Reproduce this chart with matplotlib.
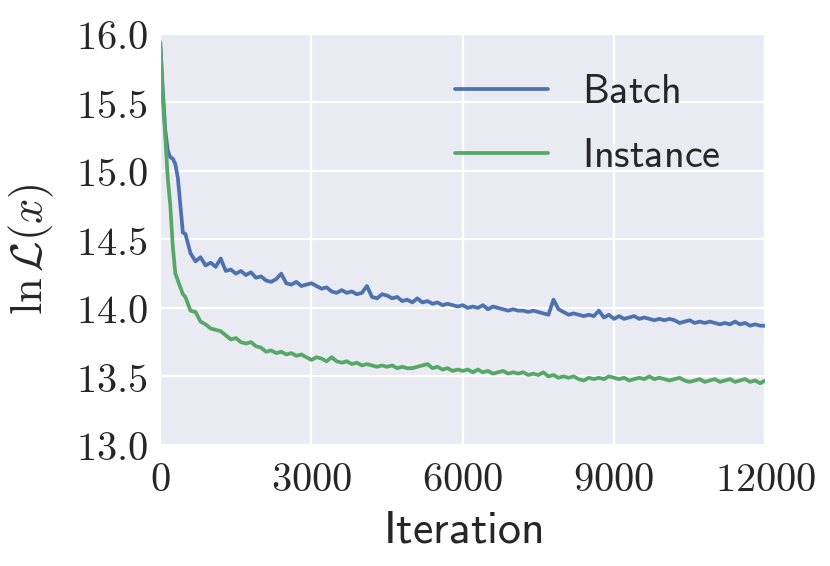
import numpy as np
import matplotlib
matplotlib.use("Agg")
import matplotlib.pyplot as plt
import seaborn as sns

# iteration axis: finer at the start, then every 100
iters = [0, 50, 100, 150, 200, 250, 300, 350, 400, 450] + list(range(500, 12001, 100))

batch = [15.94, 15.60, 15.30, 15.15, 15.10, 15.09, 15.05, 14.95, 14.75, 14.55,
         14.54, 14.40, 14.34, 14.37, 14.31, 14.33, 14.30, 14.36, 14.27, 14.28,
         14.25, 14.27, 14.24, 14.26, 14.22, 14.23, 14.20, 14.19, 14.21, 14.25,
         14.18, 14.17, 14.19, 14.16, 14.17, 14.18, 14.16, 14.14, 14.15, 14.12,
         14.11, 14.13, 14.11, 14.12, 14.10, 14.11, 14.16, 14.08, 14.07, 14.10,
         14.09, 14.07, 14.08, 14.05, 14.06, 14.04, 14.07, 14.04, 14.05, 14.03,
         14.04, 14.02, 14.03, 14.02, 14.01, 14.02, 14.00, 14.01, 14.00, 14.02,
         13.99, 14.01, 14.00, 13.99, 13.98, 13.99, 13.98, 13.98, 13.97, 13.98,
         13.97, 13.96, 13.95, 14.06, 13.99, 13.97, 13.95, 13.96, 13.95, 13.94,
         13.95, 13.94, 13.98, 13.93, 13.95, 13.92, 13.94, 13.92, 13.93, 13.94,
         13.92, 13.93, 13.92, 13.91, 13.92, 13.91, 13.92, 13.91, 13.89, 13.90,
         13.91, 13.89, 13.90, 13.89, 13.90, 13.89, 13.88, 13.89, 13.88, 13.90,
         13.88, 13.89, 13.87, 13.88, 13.87, 13.87]

instance = [15.94, 15.55, 15.25, 14.95, 14.75, 14.45, 14.25, 14.20, 14.15, 14.10,
            14.08, 13.98, 13.97, 13.90, 13.88, 13.85, 13.84, 13.83, 13.80, 13.77,
            13.78, 13.75, 13.74, 13.75, 13.72, 13.71, 13.68, 13.69, 13.67, 13.68,
            13.66, 13.67, 13.65, 13.66, 13.64, 13.62, 13.64, 13.63, 13.61, 13.64,
            13.61, 13.60, 13.61, 13.59, 13.60, 13.58, 13.59, 13.58, 13.57, 13.58,
            13.57, 13.58, 13.56, 13.57, 13.56, 13.56, 13.57, 13.58, 13.59, 13.56,
            13.57, 13.55, 13.56, 13.54, 13.55, 13.54, 13.55, 13.53, 13.55, 13.53,
            13.54, 13.52, 13.53, 13.54, 13.52, 13.53, 13.52, 13.53, 13.51, 13.52,
            13.51, 13.53, 13.50, 13.51, 13.49, 13.50, 13.49, 13.50, 13.48, 13.47,
            13.49, 13.48, 13.49, 13.48, 13.50, 13.49, 13.48, 13.49, 13.47, 13.48,
            13.49, 13.48, 13.50, 13.48, 13.49, 13.48, 13.47, 13.48, 13.49, 13.47,
            13.46, 13.47, 13.48, 13.46, 13.47, 13.48, 13.46, 13.47, 13.48, 13.46,
            13.47, 13.48, 13.46, 13.47, 13.45, 13.47]

xticks = [0, 3000, 6000, 9000, 12000]
yticks = [13.0, 13.5, 14.0, 14.5, 15.0, 15.5, 16.0]

sns.set_style("darkgrid")
plt.rcParams['mathtext.fontset'] = 'cm'

fig = plt.figure(figsize=(8.3, 5.66), dpi=100)
ax = fig.add_axes([0.193, 0.214, 0.729, 0.726])

ax.plot(iters, batch, color='#4C72B0', lw=2.7, label=r'$\mathsf{Batch}$')
ax.plot(iters, instance, color='#55A868', lw=2.7, label=r'$\mathsf{Instance}$')

ax.set_xlim(0, 12000)
ax.set_ylim(13.0, 16.0)
ax.set_xticks(xticks, [r'$%d$' % t for t in xticks], fontsize=29)
ax.set_yticks(yticks, [r'$%.1f$' % t for t in yticks], fontsize=29)
ax.tick_params(axis='x', length=0, pad=11)
ax.tick_params(axis='y', length=0, pad=9)
ax.grid(True, color='white', lw=1.6)

ax.set_xlabel(r'$\mathsf{Iteration}$', fontsize=33, labelpad=5)
ax.set_ylabel(r'$\ln\mathcal{L}(x)$', fontsize=32)
ax.yaxis.set_label_coords(-0.172, 0.477)

ax.legend(loc='upper right', frameon=False, fontsize=29, handlelength=2.3,
          handletextpad=0.85, labelspacing=0.6, borderaxespad=0.55,
          bbox_to_anchor=(0.99, 1.0))

fig.savefig('out.png', dpi=100)
